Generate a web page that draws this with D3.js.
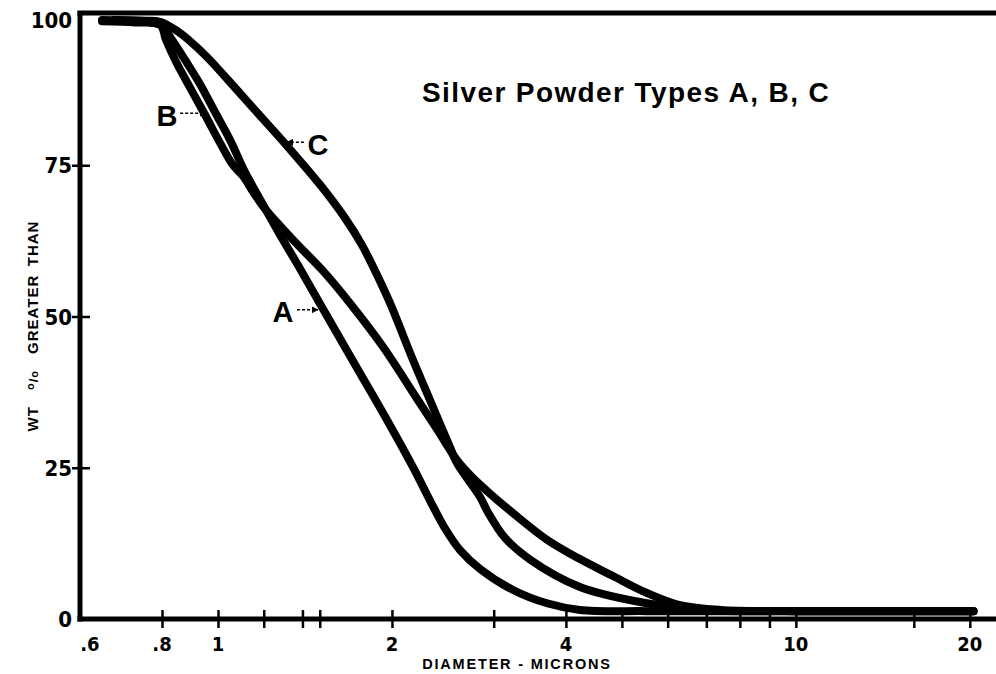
<!DOCTYPE html>
<html><head><meta charset="utf-8">
<script src="https://cdn.jsdelivr.net/npm/d3@7"></script>
<style>
html,body{margin:0;padding:0;background:#fff;}
svg{display:block;}
</style></head><body>
<svg id="chart" width="996" height="674"></svg>
<script>
// ---- data (diameter in microns, weight % greater than) ----
const aDiam = [0.63, 0.72, 0.794, 0.833, 0.877, 0.931, 0.988, 1.049, 1.105, 1.150, 1.206, 1.280, 1.375, 1.531, 1.740, 1.961, 2.175, 2.33, 2.47, 2.623, 2.84, 3.24, 3.71, 4.23, 5.5, 7.0, 10.0, 15.0, 20.3];
const aPct  = [99.0, 98.8, 98.2, 95.7, 92.4, 88.4, 83.8, 79.2, 74.5, 71.4, 67.9, 63.5, 58.5, 50.7, 41.5, 32.9, 25.1, 19.5, 15.0, 11.4, 8.3, 4.8, 2.6, 1.5, 1.3, 1.3, 1.3, 1.3, 1.3];

const bDiam = [0.63, 0.72, 0.794, 0.813, 0.846, 0.895, 0.950, 1.008, 1.062, 1.105, 1.150, 1.206, 1.280, 1.375, 1.514, 1.692, 1.930, 2.200, 2.40, 2.59, 2.75, 2.95, 3.24, 3.709, 4.23, 4.825, 5.524, 6.30, 7.39, 10.0, 15.0, 20.3];
const bPct  = [98.8, 98.6, 98.2, 95.7, 92.1, 87.8, 83.3, 78.7, 75.0, 73.2, 70.6, 67.8, 65.0, 61.8, 57.7, 52.2, 45.0, 36.7, 31.2, 26.3, 23.5, 20.8, 17.5, 13.1, 9.9, 7.1, 4.3, 2.3, 1.5, 1.3, 1.3, 1.3];

const cDiam = [0.66, 0.75, 0.794, 0.843, 0.895, 0.957, 1.041, 1.159, 1.322, 1.501, 1.658, 1.775, 1.884, 1.985, 2.175, 2.327, 2.52, 2.59, 2.84, 2.93, 3.138, 3.47, 4.23, 5.52, 6.82, 10.0, 15.0, 20.3];
const cPct  = [99.0, 98.9, 98.7, 97.4, 95.5, 92.9, 89.1, 84.1, 78.0, 71.8, 66.3, 61.8, 56.9, 52.2, 42.8, 36.2, 28.4, 25.8, 20.2, 17.7, 13.4, 9.8, 5.3, 2.6, 1.5, 1.3, 1.3, 1.3];

const seriesNames = ["A", "B", "C"];

const xTickValues  = [0.8, 1, 1.2, 1.4, 1.5, 2, 3, 4, 5, 6, 7, 8, 9, 10, 16, 20];
const xLabelValues = [0.6, 0.8, 1, 2, 4, 10, 20];
const xLabelText   = [".6", ".8", "1", "2", "4", "10", "20"];
const yTickValues  = [25, 50, 75];
const yLabelValues = [0, 25, 50, 75, 100];
const yLabelText   = ["0", "25", "50", "75", "100"];

// curve call-outs (in data units)
const calloutNames = ["B", "C", "A"];
const calloutDiam  = [0.816, 1.489, 1.296];
const calloutPct   = [83.3, 78.5, 50.9];
const arrowFrom    = [0.86, 1.408, 1.370];
const arrowTo      = [0.953, 1.316, 1.489];
const arrowPct     = [83.6, 78.8, 51.1];

const titleText  = "Silver Powder Types A, B, C";
const xTitleText = "DIAMETER - MICRONS";

// ---- drawing ----
const svg = d3.select("#chart");
const W = 996, H = 674;
svg.append("rect").attr("width", W).attr("height", H).attr("fill", "#fff");

const x = d3.scaleLog().domain([0.577, 22.2]).range([80, 996]);
const y = d3.scaleLinear().domain([0, 100]).range([619, 14]);

const labelFont = "'Liberation Sans Narrow','DejaVu Sans Condensed','Liberation Sans',Arial,sans-serif";
const mainFont = "'Liberation Sans',Arial,Helvetica,sans-serif";

// frame: left axis, bottom axis, top border
svg.append("line").attr("x1", x.range()[0]).attr("x2", x.range()[0])
  .attr("y1", y(100) - 3).attr("y2", y(0) + 2.5)
  .attr("stroke", "#000").attr("stroke-width", 5);
svg.append("line").attr("x1", x.range()[0] - 2.5).attr("x2", W)
  .attr("y1", y(0)).attr("y2", y(0))
  .attr("stroke", "#000").attr("stroke-width", 5);
svg.append("line").attr("x1", x.range()[0] - 2.5).attr("x2", W)
  .attr("y1", y(100) - 1).attr("y2", y(100) - 1)
  .attr("stroke", "#000").attr("stroke-width", 5);

// x ticks (crossing the axis)
const gx = svg.append("g").attr("transform", `translate(0,${y(0) - 9})`)
  .call(d3.axisBottom(x).tickValues(xTickValues).tickSize(18).tickFormat(""));
gx.select(".domain").remove();
gx.selectAll(".tick line").attr("stroke", "#000").attr("stroke-width", 2.5);

// y ticks (crossing the axis)
const gy = svg.append("g").attr("transform", `translate(${x.range()[0] + 10},0)`)
  .call(d3.axisLeft(y).tickValues(yTickValues).tickSize(18).tickFormat(""));
gy.select(".domain").remove();
gy.selectAll(".tick line").attr("stroke", "#000").attr("stroke-width", 2.5);

// tick labels
svg.append("g").selectAll("text").data(xLabelValues).join("text")
  .attr("x", d => x(d)).attr("y", y(0) + 32)
  .attr("text-anchor", "middle")
  .attr("font-family", labelFont).attr("font-weight", "bold").attr("font-size", 20)
  .text((d, i) => xLabelText[i]);

svg.append("g").selectAll("text").data(yLabelValues).join("text")
  .attr("x", x.range()[0] - 8)
  .attr("y", d => Math.max(y(d), y(100) + 6) + 8)
  .attr("text-anchor", "end")
  .attr("font-family", labelFont).attr("font-weight", "bold").attr("font-size", 22)
  .text((d, i) => yLabelText[i]);

// axis titles
svg.append("text").attr("x", 517).attr("y", 669)
  .attr("text-anchor", "middle")
  .attr("font-family", mainFont).attr("font-weight", "bold").attr("font-size", 14.5)
  .attr("letter-spacing", 1.8)
  .text(xTitleText);

const yt = svg.append("text")
  .attr("transform", "translate(38,326) rotate(-90)")
  .attr("text-anchor", "middle")
  .attr("font-family", mainFont).attr("font-weight", "bold").attr("font-size", 15)
  .attr("letter-spacing", 1);
yt.append("tspan").text("WT\u2003");
yt.append("tspan").attr("font-size", 11).attr("dy", -4).text("o");
yt.append("tspan").attr("font-size", 13).attr("dy", 4).text("/");
yt.append("tspan").attr("font-size", 11).attr("dy", 0).text("o");
yt.append("tspan").attr("dy", 0).text("\u2003GREATER\u2002THAN");

// title
svg.append("text").attr("x", 422).attr("y", 102)
  .attr("font-family", mainFont).attr("font-weight", "bold").attr("font-size", 28)
  .attr("letter-spacing", 1.4)
  .text(titleText);

// curves
const series = [
  {name: seriesNames[0], pts: d3.zip(aDiam, aPct)},
  {name: seriesNames[1], pts: d3.zip(bDiam, bPct)},
  {name: seriesNames[2], pts: d3.zip(cDiam, cPct)}
];
const line = d3.line().x(d => x(d[0])).y(d => y(d[1])).curve(d3.curveCatmullRom.alpha(0.5));
svg.append("g").selectAll("path").data(series).join("path")
  .attr("d", d => line(d.pts))
  .attr("fill", "none").attr("stroke", "#000")
  .attr("stroke-width", 8).attr("stroke-linecap", "round").attr("stroke-linejoin", "round");

// call-outs
const defs = svg.append("defs");
defs.append("marker").attr("id", "ah").attr("viewBox", "0 0 10 10")
  .attr("refX", 9).attr("refY", 5).attr("markerWidth", 7).attr("markerHeight", 7)
  .attr("markerUnits", "userSpaceOnUse").attr("orient", "auto")
  .append("path").attr("d", "M0,0 L10,5 L0,10 z").attr("fill", "#000");

const co = svg.append("g");
co.selectAll("line").data(calloutNames).join("line")
  .attr("x1", (d, i) => x(arrowFrom[i])).attr("x2", (d, i) => x(arrowTo[i]))
  .attr("y1", (d, i) => y(arrowPct[i])).attr("y2", (d, i) => y(arrowPct[i]))
  .attr("stroke", "#000").attr("stroke-width", 1.5).attr("stroke-dasharray", "3,2")
  .attr("marker-end", "url(#ah)");
co.selectAll("text").data(calloutNames).join("text")
  .attr("x", (d, i) => x(calloutDiam[i])).attr("y", (d, i) => y(calloutPct[i]) + 10.5)
  .attr("text-anchor", "middle")
  .attr("font-family", mainFont).attr("font-weight", "bold").attr("font-size", 29)
  .text(d => d);
</script>
</body></html>
